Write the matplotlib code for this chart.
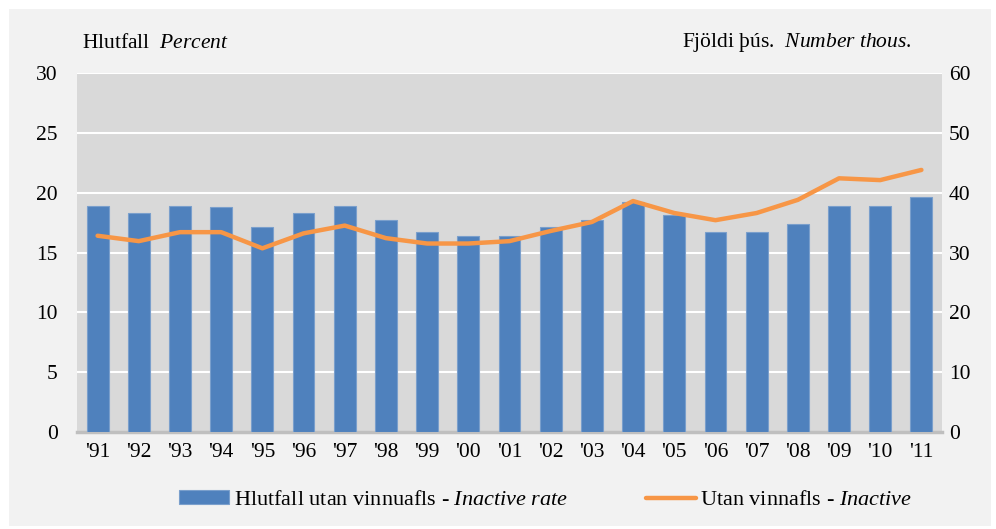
import matplotlib
matplotlib.use("Agg")
import matplotlib.pyplot as plt
from matplotlib.patches import Rectangle
import numpy as np

# data
years = ["'91", "'92", "'93", "'94", "'95", "'96", "'97", "'98", "'99", "'00", "'01",
         "'02", "'03", "'04", "'05", "'06", "'07", "'08", "'09", "'10", "'11"]
inactive_rate = [18.9, 18.3, 18.9, 18.8, 17.1, 18.3, 18.9, 17.7, 16.7, 16.4, 16.4,
                 17.1, 17.7, 19.2, 18.1, 16.7, 16.7, 17.4, 18.9, 18.9, 19.6]
inactive_thous = [32.8, 31.9, 33.4, 33.4, 30.7, 33.2, 34.5, 32.4, 31.5, 31.5, 31.9,
                  33.6, 35.1, 38.6, 36.6, 35.4, 36.6, 38.8, 42.4, 42.1, 43.8]
left_ticks = [0, 5, 10, 15, 20, 25, 30]
right_ticks = [0, 10, 20, 30, 40, 50, 60]

plt.rcParams['font.family'] = 'Liberation Serif'
plt.rcParams['mathtext.fontset'] = 'custom'
plt.rcParams['mathtext.rm'] = 'Liberation Serif'
plt.rcParams['mathtext.it'] = 'Liberation Serif:italic'
fs = 15.5

W, H = 996, 529
fig = plt.figure(figsize=(W / 100, H / 100), dpi=100, facecolor='white')
# light grey chart area with a thin white frame
fig.patches.append(Rectangle((9 / W, 1 - 526 / H), 982 / W, 517 / H,
                             transform=fig.transFigure, facecolor='#f2f2f2',
                             edgecolor='none', zorder=-10))

ax = fig.add_axes([77 / W, 1 - 432 / H, 865 / W, 359 / H])
ax.set_facecolor('#d9d9d9')
x = np.arange(len(years))
bars = ax.bar(x, inactive_rate, width=0.53, color='#4f81bd', edgecolor='#7a9fcc',
              linewidth=0.8, zorder=3, label='Hlutfall utan vinnuafls - $\\mathit{Inactive\\ rate}$')
ax.set_xlim(-0.5, len(years) - 0.5)
ax.set_ylim(0, 30)
ax.set_yticks(left_ticks)
ax.set_xticks(x)
ax.set_xticklabels(years)
ax.yaxis.grid(True, color='white', linewidth=1.5)
ax.set_axisbelow(True)
for s in ['top', 'left', 'right']:
    ax.spines[s].set_visible(False)
ax.spines['bottom'].set_color('#bfbfbf')
ax.spines['bottom'].set_linewidth(2.5)
ax.tick_params(axis='both', length=0, labelsize=fs)
ax.tick_params(axis='y', pad=14)
ax.tick_params(axis='x', pad=8)

ax2 = ax.twinx()
line, = ax2.plot(x, inactive_thous, color='#f79646', linewidth=3.2,
                 solid_capstyle='round', solid_joinstyle='round', zorder=4,
                 label='Utan vinnafls - $\\mathit{Inactive}$')
ax2.set_ylim(0, 60)
ax2.set_yticks(right_ticks)
for s in ['top', 'left', 'right', 'bottom']:
    ax2.spines[s].set_visible(False)
ax2.tick_params(axis='y', length=0, labelsize=fs, pad=5)

fig.text(82 / W, 1 - 43 / H, 'Hlutfall  $\\mathit{Percent}$', fontsize=fs,
         ha='left', va='center')
fig.text(912 / W, 1 - 43 / H, 'Fjöldi þús.  $\\mathit{Number\\ thous.}$', fontsize=fs,
         ha='right', va='center')

fig.legend(handles=[bars, line], loc='center', bbox_to_anchor=(546 / W, 1 - 500 / H),
           ncol=2, frameon=False, fontsize=16, handlelength=2.25, handleheight=0.6,
           handletextpad=0.2, columnspacing=3.5)

fig.savefig('out.png', dpi=100, facecolor='white')
